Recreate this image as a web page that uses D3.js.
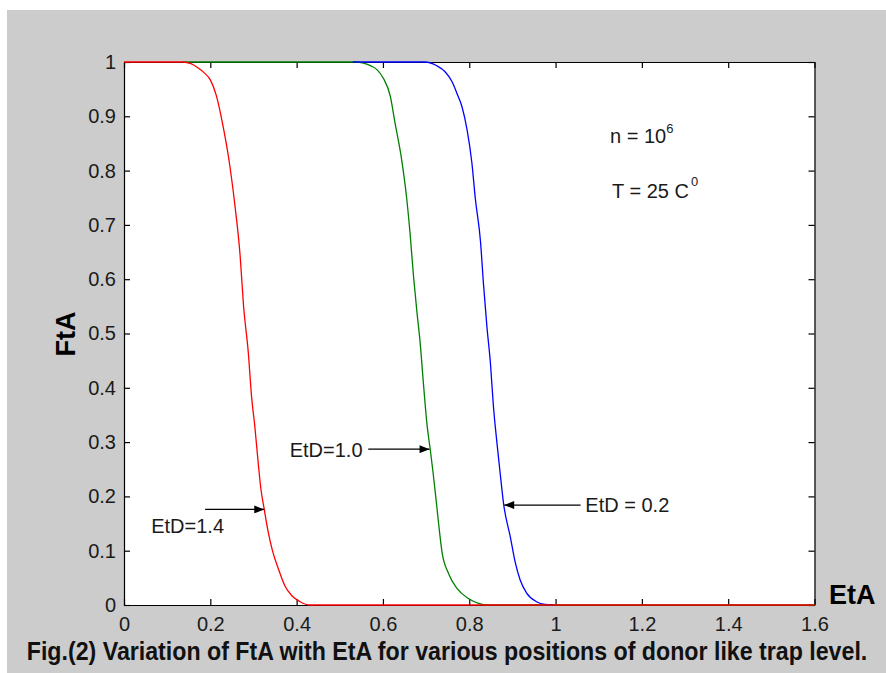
<!DOCTYPE html>
<html>
<head>
<meta charset="utf-8">
<script src="https://cdn.jsdelivr.net/npm/d3@7/dist/d3.min.js"></script>
<style>
  html, body { margin: 0; padding: 0; background: #ffffff; }
  svg { display: block; }
  text { font-family: "Liberation Sans", Arial, sans-serif; }
</style>
</head>
<body>
<svg id="chart" width="886" height="673"></svg>
<script>
// ---------- data ----------
const xTickValues = [0, 0.2, 0.4, 0.6, 0.8, 1.0, 1.2, 1.4, 1.6];
const xTickLabels = ["0", "0.2", "0.4", "0.6", "0.8", "1", "1.2", "1.4", "1.6"];
const yTickValues = [0, 0.1, 0.2, 0.3, 0.4, 0.5, 0.6, 0.7, 0.8, 0.9, 1.0];
const yTickLabels = ["0", "0.1", "0.2", "0.3", "0.4", "0.5", "0.6", "0.7", "0.8", "0.9", "1"];

// EtD = 1.4 (red)
const etaRed = [0, 0.136, 0.155, 0.172, 0.186, 0.200, 0.214, 0.228, 0.242, 0.257, 0.269, 0.277, 0.288, 0.296, 0.303, 0.310, 0.317, 0.325, 0.334, 0.344, 0.358, 0.373, 0.389, 0.408, 0.431, 1.6];
const ftaRed = [1, 1.000, 0.997, 0.989, 0.980, 0.967, 0.938, 0.888, 0.826, 0.736, 0.644, 0.551, 0.465, 0.380, 0.330, 0.270, 0.215, 0.176, 0.135, 0.100, 0.066, 0.035, 0.017, 0.006, 0.000, 0];

// EtD = 1.0 (green)
const etaGreen = [0.135, 0.536, 0.555, 0.572, 0.586, 0.601, 0.617, 0.628, 0.643, 0.655, 0.663, 0.671, 0.679, 0.686, 0.694, 0.702, 0.710, 0.716, 0.723, 0.729, 0.737, 0.752, 0.771, 0.798, 0.822, 0.840, 1.6];
const ftaGreen = [1, 1.000, 0.998, 0.993, 0.986, 0.970, 0.937, 0.888, 0.822, 0.749, 0.683, 0.604, 0.538, 0.485, 0.406, 0.333, 0.284, 0.245, 0.195, 0.150, 0.097, 0.058, 0.031, 0.012, 0.003, 0.000, 0];

// EtD = 0.2 (blue)
const etaBlue = [0.530, 0.698, 0.725, 0.744, 0.760, 0.771, 0.783, 0.795, 0.806, 0.814, 0.826, 0.833, 0.841, 0.849, 0.856, 0.864, 0.870, 0.880, 0.895, 0.907, 0.918, 0.933, 0.956, 0.975, 0.995];
const ftaBlue = [1, 1.000, 0.993, 0.982, 0.964, 0.943, 0.918, 0.875, 0.815, 0.749, 0.670, 0.591, 0.512, 0.446, 0.366, 0.300, 0.255, 0.184, 0.126, 0.077, 0.046, 0.022, 0.006, 0.001, 0];

const seriesNames = ["EtD = 1.0", "EtD = 0.2", "EtD = 1.4"];
const seriesColors = ["#008000", "#0000ff", "#ff0000"];

// annotations: label, text position (data units), arrow start / end (data units)
const annoLabels = ["EtD=1.4", "EtD=1.0", "EtD = 0.2"];
const annoTextX = [0.063, 0.384, 1.069];
const annoTextY = [0.132, 0.273, 0.171];
const annoFromX = [0.188, 0.566, 1.058];
const annoToX = [0.325, 0.708, 0.881];
const annoAtY = [0.176, 0.287, 0.184];

// ---------- drawing ----------
const W = 886, H = 673;
const svg = d3.select("#chart");

svg.append("rect").attr("x", 0).attr("y", 0).attr("width", W).attr("height", H).attr("fill", "#ffffff");
svg.append("rect").attr("x", 7).attr("y", 10).attr("width", W - 7).attr("height", H - 10).attr("fill", "#cccccc");

const x = d3.scaleLinear().domain([0, 1.6]).range([124, 814.5]);
const y = d3.scaleLinear().domain([0, 1]).range([605, 62]);

svg.append("rect")
  .attr("x", x(0)).attr("y", y(1))
  .attr("width", x(1.6) - x(0)).attr("height", y(0) - y(1))
  .attr("fill", "#ffffff");

function styleAxis(g, showText) {
  g.selectAll("path.domain").attr("stroke", "#000").attr("stroke-width", 1.2);
  g.selectAll(".tick line").attr("stroke", "#000").attr("stroke-width", 1.2);
  g.selectAll(".tick text")
    .attr("fill", "#1a1a1a")
    .style("font-size", "20px")
    .style("font-family", "'Liberation Sans', Arial, sans-serif")
    .style("display", showText ? null : "none");
}

const xBottom = svg.append("g").attr("transform", `translate(0,${y(0)})`)
  .call(d3.axisBottom(x).tickValues(xTickValues).tickSizeInner(-6).tickSizeOuter(0).tickPadding(12)
    .tickFormat((d, i) => xTickLabels[i]));
styleAxis(xBottom, true);

const xTop = svg.append("g").attr("transform", `translate(0,${y(1)})`)
  .call(d3.axisTop(x).tickValues(xTickValues).tickSizeInner(-6).tickSizeOuter(0).tickFormat(""));
styleAxis(xTop, false);

const yLeft = svg.append("g").attr("transform", `translate(${x(0)},0)`)
  .call(d3.axisLeft(y).tickValues(yTickValues).tickSizeInner(-6).tickSizeOuter(0).tickPadding(8)
    .tickFormat((d, i) => yTickLabels[i]));
styleAxis(yLeft, true);

const yRight = svg.append("g").attr("transform", `translate(${x(1.6)},0)`)
  .call(d3.axisRight(y).tickValues(yTickValues).tickSizeInner(-6).tickSizeOuter(0).tickFormat(""));
styleAxis(yRight, false);

// curves (green, blue, red order as layered in the reference)
const seriesData = [
  etaGreen.map((v, i) => [v, ftaGreen[i]]),
  etaBlue.map((v, i) => [v, ftaBlue[i]]),
  etaRed.map((v, i) => [v, ftaRed[i]])
];
const line = d3.line().x(d => x(d[0])).y(d => y(d[1])).curve(d3.curveMonotoneX);
svg.append("g").selectAll("path.curve")
  .data(seriesData)
  .join("path")
  .attr("class", "curve")
  .attr("d", line)
  .attr("fill", "none")
  .attr("stroke", (d, i) => seriesColors[i])
  .attr("stroke-width", 1.3)
  .attr("stroke-linejoin", "round");

// arrow marker
const defs = svg.append("defs");
defs.append("marker")
  .attr("id", "arrowhead")
  .attr("viewBox", "0 0 10 8")
  .attr("refX", 10).attr("refY", 4)
  .attr("markerWidth", 11).attr("markerHeight", 8)
  .attr("markerUnits", "userSpaceOnUse")
  .attr("orient", "auto")
  .append("path").attr("d", "M0,0 L10,4 L0,8 Z").attr("fill", "#000");

const annoG = svg.append("g");
annoLabels.forEach((lab, i) => {
  annoG.append("line")
    .attr("x1", x(annoFromX[i])).attr("y1", y(annoAtY[i]))
    .attr("x2", x(annoToX[i])).attr("y2", y(annoAtY[i]))
    .attr("stroke", "#000").attr("stroke-width", 1.2)
    .attr("marker-end", "url(#arrowhead)");
  annoG.append("text")
    .attr("x", x(annoTextX[i])).attr("y", y(annoTextY[i]))
    .attr("font-size", 20).attr("fill", "#1a1a1a")
    .text(lab);
});

// parameter notes
const n = svg.append("text").attr("x", 610).attr("y", 143).attr("font-size", 20).attr("fill", "#1a1a1a");
n.append("tspan").text("n = 10");
n.append("tspan").attr("dy", -10).attr("font-size", 13).text("6");

const t = svg.append("text").attr("x", 612).attr("y", 198).attr("font-size", 20).attr("fill", "#1a1a1a");
t.append("tspan").text("T = 25 C");
t.append("tspan").attr("dy", -12).attr("dx", 2).attr("font-size", 13).text("0");

// axis titles
svg.append("text").attr("x", 829).attr("y", 604)
  .attr("font-size", 27).attr("font-weight", "bold").attr("fill", "#000")
  .text("EtA");

svg.append("text")
  .attr("transform", "translate(75,334) rotate(-90)")
  .attr("text-anchor", "middle")
  .attr("font-size", 27).attr("font-weight", "bold").attr("fill", "#000")
  .text("FtA");

// caption
svg.append("text")
  .attr("transform", "translate(447,660) scale(1,1.08)")
  .attr("text-anchor", "middle")
  .attr("font-size", 23.2).attr("font-weight", "bold").attr("fill", "#111")
  .text("Fig.(2) Variation of FtA with EtA for various positions of donor like trap level.");
</script>
</body>
</html>
